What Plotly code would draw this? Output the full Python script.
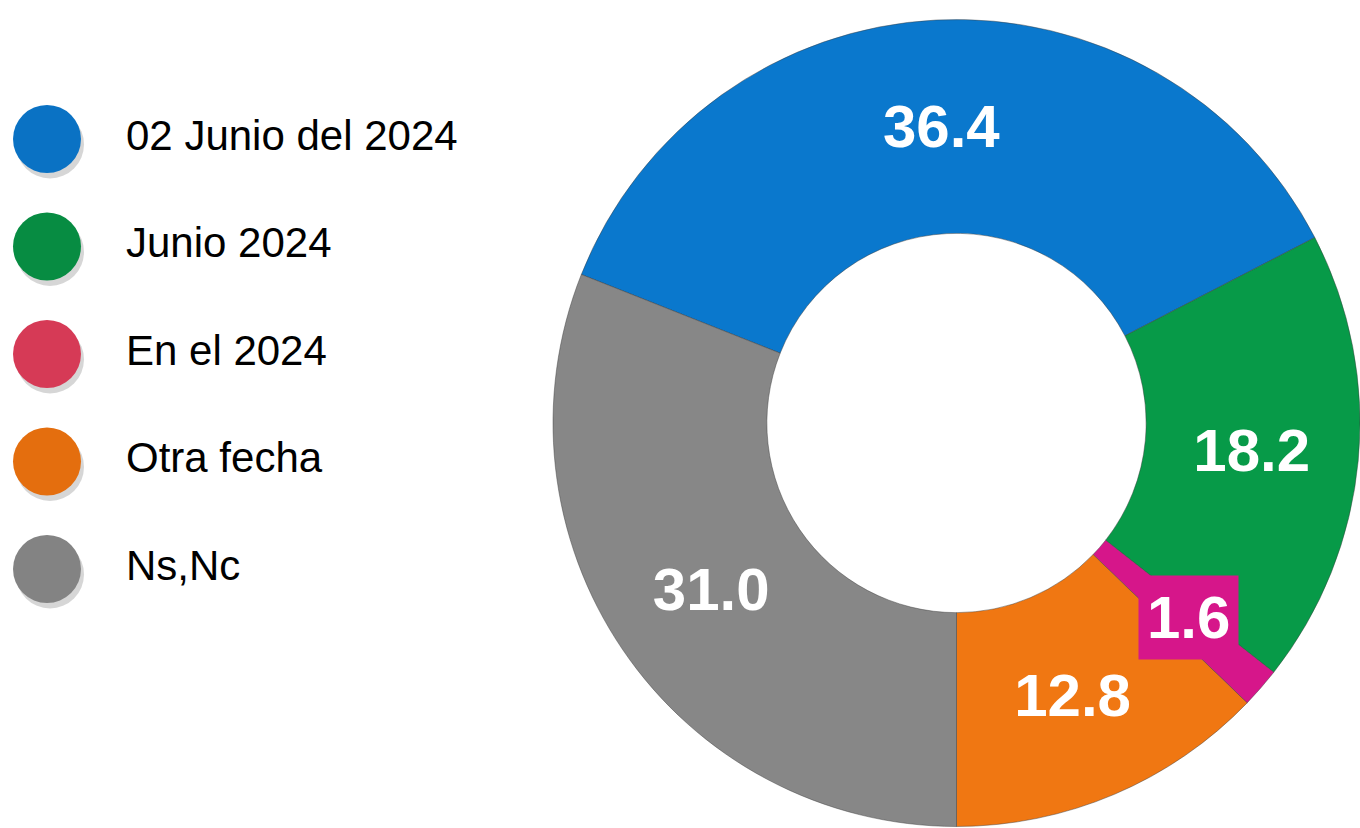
import math
import plotly.graph_objects as go

categories = ["02 Junio del 2024", "Junio 2024", "En el 2024", "Otra fecha", "Ns,Nc"]
values = [36.4, 18.2, 1.6, 12.8, 31.0]
slice_colors = ["#0A78CD", "#079A48", "#D6168A", "#F07712", "#878787"]
legend_colors = ["#0A72C4", "#078C42", "#D63A56", "#E46E0E", "#838383"]

FONT = "Liberation Sans Narrow, Arial Narrow, Liberation Sans, Arial, sans-serif"

W, H = 1360, 828
hole = 0.47
rotation = -68.4

# pie domain (paper coordinates)
dom_x = [553 / W, 1.0]
dom_y = [0.0, 810 / H]

small = [v < 5 for v in values]
texts = ["" if s else f"{v:.1f}" for v, s in zip(values, small)]

fig = go.Figure()
fig.add_trace(go.Pie(
    values=values,
    labels=categories,
    text=texts,
    textinfo="text",
    textposition="inside",
    insidetextorientation="horizontal",
    textfont=dict(family=FONT, size=60, color="white", weight="bold"),
    marker=dict(colors=slice_colors, line=dict(color="rgba(60,60,60,0.45)", width=1)),
    hole=hole,
    sort=False,
    direction="clockwise",
    rotation=rotation,
    domain=dict(x=dom_x, y=dom_y),
    showlegend=False,
    hoverinfo="label+value",
))

# label for the small slice, placed at mid-ring of its own slice (computed from data)
cx_px = (dom_x[0] + dom_x[1]) / 2 * W
cy_px = (1 - (dom_y[0] + dom_y[1]) / 2) * H
R = min((dom_x[1] - dom_x[0]) * W, (dom_y[1] - dom_y[0]) * H) / 2
r_mid = R * (1 + hole) / 2
total = sum(values)
cum = 0.0
for v, s in zip(values, small):
    if s:
        mid = rotation + (cum + v / 2) / total * 360
        a = math.radians(mid)
        px = cx_px + r_mid * math.sin(a)
        py = cy_px - r_mid * math.cos(a)
        fig.add_annotation(
            x=px / W, y=1 - py / H, xref="paper", yref="paper",
            xanchor="center", yanchor="middle", xshift=8,
            text=f"<b>{v:.1f}</b>", showarrow=False,
            font=dict(family=FONT, size=60, color="white"),
            bgcolor="#D6168A", borderpad=8,
        )
    cum += v

# legend drawn as a scatter on its own axes
rows = list(range(len(categories)))
fig.add_trace(go.Scatter(
    x=[50] * len(rows), y=[r + 0.05 for r in rows], mode="markers",
    marker=dict(size=68, color="rgba(0,0,0,0.16)", line=dict(width=0)),
    hoverinfo="skip", showlegend=False, xaxis="x", yaxis="y",
))
fig.add_trace(go.Scatter(
    x=[47] * len(rows), y=rows, mode="markers",
    marker=dict(size=68, color=legend_colors, line=dict(width=0)),
    hoverinfo="skip", showlegend=False, xaxis="x", yaxis="y",
))
fig.add_trace(go.Scatter(
    x=[126] * len(rows), y=rows, mode="text", text=categories,
    textposition="middle right",
    textfont=dict(family=FONT, size=42, color="black"),
    hoverinfo="skip", showlegend=False, xaxis="x", yaxis="y",
))

fig.update_layout(
    width=W, height=H,
    margin=dict(l=0, r=0, t=0, b=0),
    paper_bgcolor="white", plot_bgcolor="rgba(0,0,0,0)",
    xaxis=dict(domain=[0, 544 / W], range=[0, 544], visible=False, fixedrange=True),
    yaxis=dict(domain=[0, 1], range=[(H - 139) / 107.5, -139 / 107.5], visible=False, fixedrange=True),
)

fig.write_html("out.html", config={"displayModeBar": False},
               post_script="document.body.style.margin='0';")
